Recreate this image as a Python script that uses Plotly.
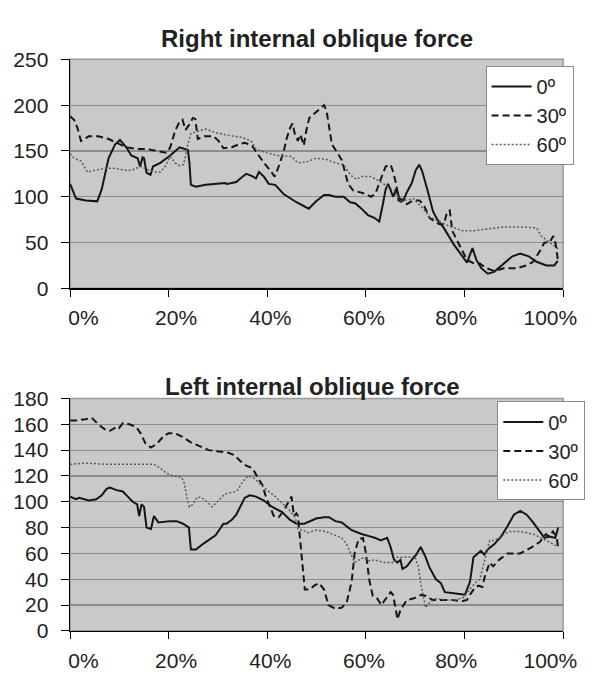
import plotly.graph_objects as go

# ---------------- data (x in % of cycle) ----------------
right_0_x = [0, 1.2, 3.2, 5.5, 6.4, 7.8, 9.1, 10.1, 11.4, 12.4, 13.7, 14.2, 14.7, 15.0, 15.5, 16.3, 16.8, 18.3, 20.3, 22.2,
             23.9, 24.2, 24.5, 25.5, 27.5, 29.5, 31.4, 31.8, 33.7, 34.1, 35.7, 36.7, 37.7, 38.3, 39.3, 40.3, 41.6, 43.3, 45.9, 48.4,
             49.9, 51.5, 52.5, 53.8, 55.5, 56.8, 57.8, 59.1, 60.4, 61.7, 62.7, 63.4, 64.0, 64.5, 65.0, 65.5, 66.2, 66.8, 67.6, 68.3,
             69.3, 70.1, 70.8, 71.4, 72.6, 73.6, 74.5, 75.8, 77.8, 79.5, 80.5, 81.6, 82.4, 83.4, 84.7, 86.0, 88.0, 89.7, 91.3, 93.0,
             94.6, 96.6, 98.2, 98.9]
right_0_y = [114, 98, 96, 95, 108, 142, 157, 162, 154, 145, 142, 133, 143, 142, 126, 124, 133, 137, 145, 154,
             151, 137, 113, 111, 113, 114, 115, 114, 116, 118, 125, 123, 120, 127, 122, 114, 113, 103, 94, 87,
             95, 102, 102, 100, 100, 94, 93, 87, 80, 77, 73, 91, 108, 114, 107, 100, 109, 98, 96, 105,
             115, 129, 135, 128, 105, 84, 75, 66, 48, 35, 28, 44, 31, 22, 16, 18, 27, 35, 38, 35,
             29, 25, 25, 30]

right_30_x = [0, 0.8, 1.5, 2.2, 3.8, 5.7, 7.8, 9.4, 11.4, 13.7, 15.7, 17.6, 19.6, 20.3, 21.3, 22.2, 22.8, 23.4, 24.2, 24.9,
              25.4, 25.9, 27.2, 29.1, 30.1, 31.1, 32.8, 34.1, 35.4, 36.4, 37.0, 38.0, 39.3, 40.7, 41.5, 42.3, 43.3, 43.9, 44.6, 45.1,
              45.6, 46.2, 46.7, 47.4, 47.9, 48.5, 49.9, 51.5, 52.0, 52.5, 53.1, 54.1, 55.1, 55.8, 56.4, 57.4, 58.5, 60.0, 61.0, 61.9,
              63.0, 64.0, 65.0, 65.6, 66.2, 66.6, 67.0, 68.3, 69.6, 70.9, 71.9, 72.9, 73.9, 74.9, 75.8, 76.5, 77.0, 77.5, 78.5, 79.5,
              80.5, 82.0, 83.1, 84.4, 86.0, 88.0, 90.6, 92.6, 93.9, 95.3, 96.2, 97.2, 98.0, 98.5, 98.9]
right_30_y = [188, 184, 175, 161, 166, 166, 163, 159, 154, 152, 152, 150, 148, 154, 172, 182, 184, 173, 179, 186,
              185, 163, 166, 166, 161, 153, 154, 157, 159, 157, 155, 147, 137, 128, 122, 133, 149, 163, 175, 180,
              168, 161, 168, 156, 172, 186, 193, 200, 194, 175, 157, 149, 140, 126, 114, 107, 105, 103, 100, 103,
              119, 133, 135, 126, 112, 96, 95, 92, 96, 96, 89, 77, 73, 70, 70, 84, 85, 63, 52, 41,
              31, 27, 27, 22, 19, 22, 22, 25, 29, 41, 50, 50, 57, 48, 32]

right_60_x = [0, 0.8, 2.2, 2.8, 3.5, 5.1, 7.1, 9.1, 11.0, 12.4, 14.3, 16.0, 17.0, 18.3, 19.3, 20.3, 21.3, 22.2, 23.0, 23.9,
              24.5, 26.2, 27.5, 29.5, 32.1, 34.7, 36.7, 37.7, 39.3, 42.0, 44.9, 46.2, 47.9, 49.9, 51.8, 53.8, 55.5, 56.8, 58.1, 59.1,
              61.0, 62.7, 64.3, 65.7, 66.3, 68.3, 69.6, 70.6, 71.6, 72.9, 74.9, 76.8, 79.5, 82.1, 84.7, 88.0, 91.3, 94.6, 95.6, 96.9,
              98.5, 99.0]
right_60_y = [147, 142, 139, 133, 127, 129, 131, 131, 129, 129, 133, 129, 127, 127, 133, 144, 137, 134, 135, 158,
              169, 172, 174, 170, 167, 165, 161, 152, 149, 145, 144, 137, 138, 142, 141, 137, 135, 124, 119, 122,
              122, 117, 112, 107, 100, 96, 98, 93, 87, 78, 73, 68, 63, 63, 65, 67, 67, 66, 57, 52,
              45, 43]

left_0_x = [0, 1.2, 1.8, 3.8, 5.3, 6.4, 7.4, 8.1, 9.4, 10.7, 11.7, 12.7, 13.6, 14.0, 14.5, 15.0, 15.5, 16.4, 17.0, 17.9,
            20.3, 21.6, 22.9, 24.1, 24.5, 25.5, 27.2, 29.5, 31.1, 31.7, 32.8, 33.7, 35.4, 36.4, 37.7, 39.3, 41.0, 43.0, 44.6, 45.9,
            47.5, 49.9, 51.5, 52.5, 53.8, 55.1, 57.1, 59.1, 61.0, 61.9, 63.0, 64.3, 65.0, 65.7, 66.4, 67.0, 67.4, 68.3, 69.3, 70.2,
            71.1, 72.0, 72.9, 74.2, 75.2, 76.0, 78.2, 80.1, 81.1, 81.8, 82.4, 83.3, 84.0, 84.7, 86.0, 87.4, 88.7, 90.0, 91.3, 92.6,
            93.9, 95.2, 96.2, 97.2, 98.4, 99.0]
left_0_y = [104, 102, 103, 101, 102, 105, 110, 111, 109, 108, 104, 100, 98, 89, 98, 96, 80, 79, 89, 84,
            85, 85, 83, 80, 63, 63, 68, 74, 83, 83, 86, 90, 103, 105, 104, 101, 96, 92, 86, 83,
            83, 87, 88, 88, 85, 84, 78, 75, 73, 72, 70, 72, 65, 55, 53, 55, 48, 50, 55, 59,
            65, 58, 49, 40, 37, 30, 29, 28, 38, 57, 59, 62, 59, 63, 67, 73, 81, 90, 93, 90,
            84, 77, 72, 73, 72, 80]

left_30_x = [0, 1.5, 3.1, 4.4, 5.7, 7.1, 8.1, 9.4, 9.9, 10.7, 12.0, 13.4, 14.3, 15.3, 16.4, 17.6, 19.0, 20.0, 21.3, 22.9,
             24.5, 26.2, 28.1, 30.1, 32.1, 33.4, 34.4, 35.7, 37.0, 38.0, 39.0, 39.7, 40.7, 41.3, 42.3, 43.3, 44.3, 44.9, 45.4, 45.9,
             46.2, 46.7, 47.2, 47.6, 48.6, 49.5, 50.5, 51.5, 52.4, 53.8, 55.1, 56.1, 57.1, 57.7, 58.5, 59.4, 60.0, 60.7, 61.4, 62.3,
             63.1, 63.9, 65.0, 65.5, 66.0, 66.4, 66.9, 67.3, 68.3, 69.6, 71.2, 72.2, 73.5, 75.5, 77.4, 79.5, 80.5, 81.1, 82.0, 82.8,
             83.6, 84.1, 85.1, 85.8, 87.0, 88.7, 91.3, 93.3, 95.3, 96.5, 97.2, 97.9, 98.7, 99.0]
left_30_y = [163, 163, 164, 165, 160, 156, 155, 158, 157, 161, 160, 158, 153, 145, 142, 145, 151, 153, 153, 150,
             146, 143, 140, 139, 138, 136, 132, 128, 126, 119, 113, 104, 95, 89, 88, 93, 100, 104, 89, 91,
             89, 68, 43, 32, 32, 35, 37, 32, 20, 17, 18, 22, 38, 60, 71, 72, 60, 39, 27, 25,
             20, 24, 30, 28, 19, 9, 15, 18, 24, 25, 28, 27, 24, 24, 24, 23, 24, 28, 33, 35,
             34, 42, 53, 50, 55, 60, 60, 64, 69, 75, 73, 77, 73, 63]

left_60_x = [0, 3.2, 7.1, 11.0, 14.9, 17.0, 18.3, 19.6, 20.9, 22.6, 23.2, 23.7, 24.2, 24.9, 25.9, 27.2, 28.8, 30.1, 31.4, 32.5,
             33.7, 34.1, 35.1, 36.1, 37.4, 38.7, 40.0, 41.6, 43.3, 44.6, 45.6, 46.2, 47.2, 48.2, 49.9, 51.8, 53.8, 55.1, 56.1, 57.1,
             57.7, 58.6, 59.6, 60.7, 61.6, 63.7, 65.7, 66.3, 67.6, 68.9, 69.9, 70.6, 71.2, 72.1, 72.9, 74.2, 76.2, 78.2, 79.8, 81.1,
             82.1, 83.1, 83.8, 84.4, 85.1, 86.0, 87.4, 89.0, 91.3, 93.9, 95.6, 97.2, 99.0]
left_60_y = [129, 130, 129, 129, 129, 129, 126, 122, 120, 119, 114, 103, 96, 98, 104, 102, 96, 101, 106, 107,
             108, 110, 116, 120, 118, 113, 109, 104, 98, 93, 88, 79, 78, 76, 78, 77, 74, 72, 67, 58,
             53, 55, 57, 54, 55, 53, 53, 57, 57, 57, 58, 50, 35, 18, 22, 25, 24, 24, 26, 32,
             37, 40, 50, 60, 70, 70, 73, 77, 77, 75, 72, 69, 65]

series_names = ["0º", "30º", "60º"]
x_tick_marks = [0, 20, 40, 60, 80, 100]
x_label_pos = [2.7, 21.5, 40.6, 59.6, 78.3, 97.4]
x_tick_text = ["0%", "20%", "40%", "60%", "80%", "100%"]
titles = ["Right internal oblique force", "Left internal oblique force"]

# ---------------- styling ----------------
W, H = 594, 681
FONT = "Liberation Sans, Arial, sans-serif"
styles = [
    dict(color="#151515", width=2, dash="solid"),
    dict(color="#151515", width=2, dash="7px,4px"),
    dict(color="#5a5a5a", width=1.5, dash="2px,2px"),
]

fig = go.Figure()
top = [(right_0_x, right_0_y), (right_30_x, right_30_y), (right_60_x, right_60_y)]
bot = [(left_0_x, left_0_y), (left_30_x, left_30_y), (left_60_x, left_60_y)]
for i, (xs, ys) in enumerate(top):
    fig.add_trace(go.Scatter(x=xs, y=ys, mode="lines", name=series_names[i], line=styles[i],
                             xaxis="x", yaxis="y", legend="legend"))
for i, (xs, ys) in enumerate(bot):
    fig.add_trace(go.Scatter(x=xs, y=ys, mode="lines", name=series_names[i], line=styles[i],
                             xaxis="x2", yaxis="y2", legend="legend2"))

xdom = [70 / W, 576.7 / W]
ydom_top = [1 - 286 / H, 1 - 49 / H]
ydom_bot = [1 - 640.5 / H, 1 - 400 / H]

tickfont = dict(family=FONT, size=21, color="#222")
def xaxis_cfg(anchor):
    return dict(domain=xdom, range=[0, 100], anchor=anchor, showgrid=False, zeroline=False,
                tickmode="array", tickvals=x_label_pos, ticktext=x_tick_text, ticks="",
                tickfont=tickfont, showline=True, linecolor="black", linewidth=1.5,
                minor=dict(tickmode="array", tickvals=x_tick_marks, ticks="outside", ticklen=7,
                           tickcolor="black", tickwidth=1, showgrid=False),
                ticklabelstandoff=10)

def yaxis_cfg(anchor, dom, rng, dt):
    return dict(domain=dom, range=rng, dtick=dt, anchor=anchor, showgrid=True, gridcolor="#8c8c8c",
                gridwidth=1.2, zeroline=False, ticks="outside", ticklen=8, tickcolor="black",
                tickfont=tickfont, showline=True, linecolor="black", linewidth=1.5,
                ticklabelstandoff=8)

legend_common = dict(xanchor="left", yanchor="top", bgcolor="white", bordercolor="#8a8a8a", borderwidth=1,
                     font=dict(family=FONT, size=20, color="#222"), tracegroupgap=0, itemwidth=40)

fig.update_layout(
    width=W, height=H, margin=dict(l=0, r=0, t=0, b=0),
    paper_bgcolor="white", plot_bgcolor="#c9c9cb",
    font=dict(family=FONT, color="#222"),
    xaxis=xaxis_cfg("y"), yaxis=yaxis_cfg("x", ydom_top, [0, 250], 50),
    xaxis2=xaxis_cfg("y2"), yaxis2=yaxis_cfg("x2", ydom_bot, [0, 180], 20),
    legend=dict(x=497 / W, y=1 - 56 / H, **legend_common),
    legend2=dict(x=509 / W, y=1 - 403 / H, **legend_common),
    showlegend=True,
)

# plot-area frame (grey, top & right)
for xr, yr in [("x domain", "y domain"), ("x2 domain", "y2 domain")]:
    fig.add_shape(type="rect", xref=xr, yref=yr, x0=0, x1=1, y0=0, y1=1,
                  line=dict(color="#9a9a9a", width=1.5), layer="below")

fig.add_annotation(text="<b>" + titles[0] + "</b>", xref="paper", yref="paper", x=323.5 / W, y=1 - 27 / H,
                   xanchor="center", yanchor="middle", showarrow=False,
                   font=dict(family=FONT, size=24, color="#222"))
fig.add_annotation(text="<b>" + titles[1] + "</b>", xref="paper", yref="paper", x=319 / W, y=1 - 388 / H,
                   xanchor="center", yanchor="middle", showarrow=False,
                   font=dict(family=FONT, size=24, color="#222"))

# pin the figure to the window's top-left corner (no body margin)
post = ("document.body.style.margin='0';"
        "var d=document.getElementById('{plot_id}');"
        "d.style.position='fixed';d.style.left='0';d.style.top='0';")
fig.write_html("out.html", post_script=post, config={"displayModeBar": False, "staticPlot": True})
